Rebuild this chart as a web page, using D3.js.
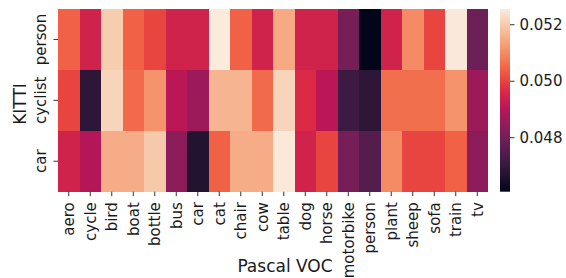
<!DOCTYPE html>
<html><head><meta charset="utf-8">
<script src="https://cdn.jsdelivr.net/npm/d3@7"></script>
<style>
body{margin:0;background:#fff;}
text{font-family:"DejaVu Sans",sans-serif;fill:#1a1a1a;}
</style></head><body>
<svg id="c" width="566" height="278"></svg>
<script>
const rows = ["person", "cyclist", "car"];
const cols = ["aero","cycle","bird","boat","bottle","bus","car","cat","chair","cow","table","dog","horse","motorbike","person","plant","sheep","sofa","train","tv"];
const personVals  = [0.05040,0.04943,0.05202,0.05040,0.05002,0.04943,0.04943,0.05254,0.05040,0.04943,0.05144,0.04943,0.04943,0.04801,0.04607,0.04943,0.05099,0.05002,0.05250,0.04788];
const cyclistVals = [0.05002,0.04685,0.05215,0.05053,0.05112,0.04905,0.04859,0.05163,0.05163,0.05053,0.05215,0.04963,0.04905,0.04711,0.04685,0.05060,0.05060,0.05060,0.05112,0.04859];
const carVals     = [0.04943,0.04892,0.05151,0.05151,0.05196,0.04833,0.04665,0.05040,0.05151,0.05151,0.05248,0.04943,0.05002,0.04801,0.04749,0.05099,0.05002,0.05002,0.05040,0.04833];
const cbTicks = [0.048, 0.050, 0.052];
// seaborn "rocket" colormap anchors
const rocketPos = [0,0.0909,0.1429,0.1818,0.2727,0.2857,0.3636,0.4286,0.4545,0.5455,0.5714,0.6364,0.7143,0.7273,0.8182,0.8571,0.9091,1];
const rocketCol = ["#03051a","#221331","#35193e","#451c47","#6a1f56","#701f57","#921c5b","#ad1759","#b91657","#d92847","#e13342","#ed513e","#f37651","#f47c56","#f6a47c","#f6b48f","#f7c9aa","#faebdd"];

const matrix = [personVals, cyclistVals, carVals];
const all = matrix.flat();
const [vmin, vmax] = d3.extent(all);
const rocket = d3.scaleLinear().domain(rocketPos).range(rocketCol).interpolate(d3.interpolateRgb);
const color = v => rocket((v - vmin) / (vmax - vmin));

const svg = d3.select("#c");
const L = 58, R = 488, T = 9, B = 191.7;
const x = d3.scaleBand().domain(cols).range([L, R]);
const y = d3.scaleBand().domain(rows).range([T, B]);

const cells = [];
rows.forEach((r, i) => cols.forEach((c, j) => cells.push({r, c, v: matrix[i][j]})));
svg.append("g").selectAll("rect").data(cells).join("rect")
  .attr("x", d => x(d.c)).attr("y", d => y(d.r))
  .attr("width", x.bandwidth() + 0.3).attr("height", y.bandwidth() + 0.3)
  .attr("fill", d => color(d.v)).attr("shape-rendering", "crispEdges");

// x axis
const xa = svg.append("g").attr("transform", `translate(0,${B})`)
  .call(d3.axisBottom(x).tickSize(4.5).tickSizeOuter(0));
xa.select(".domain").remove();
xa.selectAll(".tick line").attr("stroke", "#333").attr("stroke-width", 1);
xa.selectAll(".tick text").attr("font-size", 15)
  .attr("transform", "rotate(-90)").attr("text-anchor", "end")
  .attr("x", -10.5).attr("y", 0).attr("dy", "0.35em").attr("fill", "#1a1a1a");

// y axis
const ya = svg.append("g").attr("transform", `translate(${L},0)`)
  .call(d3.axisLeft(y).tickSize(4.5).tickSizeOuter(0));
ya.select(".domain").remove();
ya.selectAll(".tick line").attr("stroke", "#333").attr("stroke-width", 1);
ya.selectAll(".tick text").attr("font-size", 15)
  .attr("transform", "rotate(-90)").attr("text-anchor", "middle")
  .attr("x", 0).attr("y", -12.5).attr("dy", "0em").attr("fill", "#1a1a1a");

// axis titles
svg.append("text").attr("x", 285).attr("y", 272).attr("text-anchor", "middle")
  .attr("font-size", 17).text("Pascal VOC");
svg.append("text").attr("transform", `translate(26,104) rotate(-90)`)
  .attr("text-anchor", "middle").attr("font-size", 17).text("KITTI");

// colorbar
const cbL = 500, cbW = 10;
const cy = d3.scaleLinear().domain([vmin, vmax]).range([B, T]);
const defs = svg.append("defs");
const grad = defs.append("linearGradient").attr("id", "g").attr("x1", 0).attr("y1", 1).attr("x2", 0).attr("y2", 0);
grad.selectAll("stop").data(rocketPos).join("stop")
  .attr("offset", d => d).attr("stop-color", (d, i) => rocketCol[i]);
svg.append("rect").attr("x", cbL).attr("y", T).attr("width", cbW).attr("height", B - T).attr("fill", "url(#g)");
const ca = svg.append("g").attr("transform", `translate(${cbL + cbW},0)`)
  .call(d3.axisRight(cy).tickValues(cbTicks).tickFormat(d3.format(".3f")).tickSize(4.5));
ca.select(".domain").remove();
ca.selectAll(".tick line").attr("stroke", "#333");
ca.selectAll(".tick text").attr("font-size", 15).attr("x", 9.5).attr("fill", "#1a1a1a");
</script></body></html>
